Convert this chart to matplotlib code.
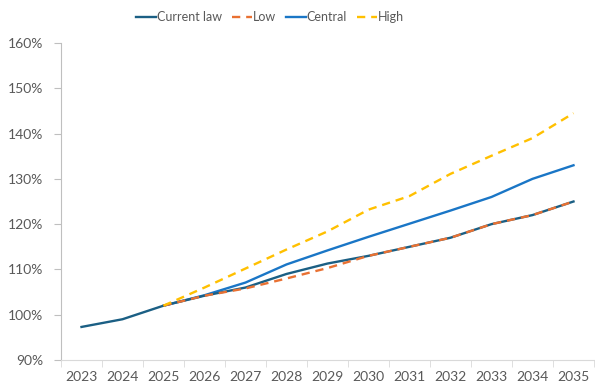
import numpy as np
import matplotlib.pyplot as plt

years = ["2023", "2024", "2025", "2026", "2027", "2028", "2029",
         "2030", "2031", "2032", "2033", "2034", "2035"]
nan = np.nan
current_law = [97.3, 99.0, 102.0, 104.2, 106.0, 109.0, 111.3, 113.0, 115.0, 117.0, 120.0, 122.0, 125.0]
low = [nan, nan, 102.0, 104.2, 105.8, 108.0, 110.3, 113.0, 115.0, 117.0, 120.0, 122.0, 125.0]
central = [nan, nan, 102.0, 104.3, 107.1, 111.1, 114.2, 117.2, 120.1, 123.0, 126.0, 130.0, 133.0]
high = [nan, nan, 102.0, 106.0, 110.2, 114.4, 118.4, 123.2, 126.2, 131.1, 135.1, 139.0, 144.5]

plt.rcParams['font.family'] = ['Lato', 'DejaVu Sans']
grey = '#595959'

fig = plt.figure(figsize=(5.95, 3.82), dpi=100)
ax = fig.add_axes([61 / 595, 22 / 382, 533 / 595, 317 / 382])

x = np.arange(len(years))
ax.plot(x, central, color='#1a76c6', lw=1.7, label='Central', zorder=3)
ax.plot(x, current_law, color='#1b5f84', lw=1.7, label='Current law', zorder=4)
ax.plot(x, low, color='#e97132', lw=1.7, ls=(0, (3.5, 2.5)), label='Low', zorder=5)
ax.plot(x, high, color='#ffc000', lw=1.7, ls=(0, (3.5, 2.5)), label='High', zorder=6)

ax.set_xlim(-0.5, len(years) - 0.5)
ax.set_ylim(90, 160)
ax.set_yticks(np.arange(90, 161, 10))
ax.set_yticklabels([f"{v}%" for v in range(90, 161, 10)])
ax.set_xticks(x)
ax.set_xticklabels(years)
ax.set_xticks(np.arange(-0.5, len(years)), minor=True)
ax.tick_params(axis='x', which='major', length=0, pad=8, labelsize=10, labelcolor=grey)
ax.tick_params(axis='x', which='minor', length=5, color='#d9d9d9')
ax.tick_params(axis='y', length=5, color='#bfbfbf', pad=8, labelsize=10, labelcolor=grey)

for side in ['top', 'right']:
    ax.spines[side].set_visible(False)
ax.spines['left'].set_color('#bfbfbf')
ax.spines['bottom'].set_color('#d9d9d9')

handles, labels = ax.get_legend_handles_labels()
order = [1, 2, 0, 3]
fig.legend([handles[i] for i in order], [labels[i] for i in order],
           loc='center', bbox_to_anchor=(270 / 595, 1 - 17 / 382), ncol=4,
           frameon=False, fontsize=9, labelcolor=grey, handlelength=1.6,
           handletextpad=0.05, columnspacing=0.8)

fig.savefig("out.png", dpi=100)
